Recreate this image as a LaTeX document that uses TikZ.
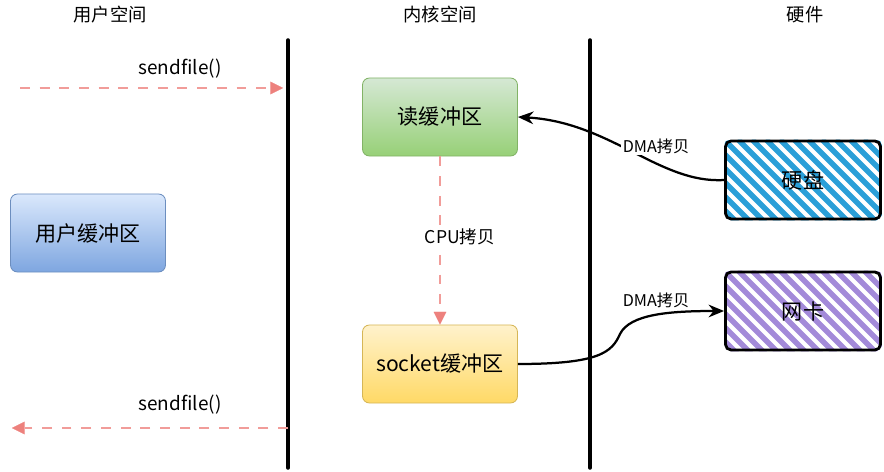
\documentclass[tikz,border=0pt]{standalone}
\usepackage{fontspec}
\setmainfont{Noto Sans CJK SC}
\usepackage{tikz}
\usetikzlibrary{
  arrows.meta,
  positioning,
  backgrounds
}
\definecolor{BufBlueTop}{HTML}{DAE8FC}
\definecolor{BufBlueBot}{HTML}{7EA6E0}
\definecolor{BufBlueLine}{HTML}{6C8EBF}
\definecolor{BufGreenTop}{HTML}{D5E8D4}
\definecolor{BufGreenBot}{HTML}{97D077}
\definecolor{BufGreenLine}{HTML}{82B366}
\definecolor{BufYellowTop}{HTML}{FFF2CC}
\definecolor{BufYellowBot}{HTML}{FFD966}
\definecolor{BufYellowLine}{HTML}{D6B656}
\definecolor{DiskBlue}{HTML}{2A9FD8}
\definecolor{NicPurple}{HTML}{A38AD9}
\definecolor{CallPink}{HTML}{F19C99}
\definecolor{CallTip}{HTML}{EA6B66}
\tikzset{
  title/.style={
    font=\fontsize{13}{15}\selectfont
  },
  buffer/.style={
    draw,
    rounded corners=5pt,
    line width=0.6pt,
    align=center,
    minimum width=3.875cm,
    minimum height=1.95cm,
    font=\fontsize{15}{17}\selectfont
  },
  hwbox/.style={
    draw=black,
    rounded corners=4pt,
    line width=2pt,
    align=center,
    minimum width=3.875cm,
    minimum height=1.95cm,
    font=\fontsize{15}{17}\selectfont
  },
  divider/.style={
    line width=2.5pt,
    line cap=round
  },
  call/.style={
    draw=CallPink,
    line width=2pt,
    dash pattern=on 7pt off 7pt,
    -{Triangle[length=9pt,width=9pt,color=CallTip!85,line width=0.1pt]}
  },
  dma/.style={
    line width=1.6pt,
    -{Stealth[length=11pt,width=9pt]}
  },
  lbl/.style={
    fill=white,
    inner sep=1pt,
    font=\fontsize{11.5}{13}\selectfont
  }
}

\begin{document}
\begin{tikzpicture}[x=0.025cm,y=-0.025cm]

  \useasboundingbox (0,0) rectangle (884,472);

  % column titles
  \node[title] (tuser) at (110,15) {用户空间};
  \node[title] (tkern) at (440,15) {内核空间};
  \node[title] (thw) at (805,15) {硬件};

  % dividers
  \coordinate (d1top) at (288,40);
  \coordinate (d1bot) at (288,468);
  \coordinate (d2top) at (590,40);
  \coordinate (d2bot) at (590,468);
  \draw[divider] (d1top) -- (d1bot);
  \draw[divider] (d2top) -- (d2bot);

  % buffers
  \node[
    buffer,
    draw=BufBlueLine,
    top color=BufBlueTop,
    bottom color=BufBlueBot
  ] (userbuf) at (88,233) {用户缓冲区};

  \node[
    buffer,
    draw=BufGreenLine,
    top color=BufGreenTop,
    bottom color=BufGreenBot
  ] (readbuf) at (440,117) {读缓冲区};

  \node[
    buffer,
    draw=BufYellowLine,
    top color=BufYellowTop,
    bottom color=BufYellowBot
  ] (sockbuf) at (440,364) {socket缓冲区};

  % hardware
  \node[hwbox] (disk) at (803,180) {硬盘};
  \node[hwbox] (nic) at (803,311) {网卡};

  \begin{scope}[on background layer]
    \begin{scope}
      \clip[rounded corners=4pt]
      (disk.south west) rectangle (disk.north east);
      \foreach \i in {-98,-84,...,168}
        \draw[DiskBlue, line width=4pt]
        (disk.north west) ++(\i,0) -- ++(90,90);
    \end{scope}
    \begin{scope}
      \clip[rounded corners=4pt]
      (nic.south west) rectangle (nic.north east);
      \foreach \i in {-98,-84,...,168}
        \draw[NicPurple, line width=4pt]
        (nic.north west) ++(\i,0) -- ++(90,90);
    \end{scope}
  \end{scope}

  % sendfile() calls
  \coordinate (callin) at (20,88);
  \coordinate (callhit) at (283,88);
  \coordinate (retfrom) at (288,428);
  \coordinate (retout) at (12,428);

  \draw[call] (callin) -- (callhit);
  \node[lbl, font=\fontsize{13.5}{15}\selectfont] (sf1) at (180,69) {sendfile()};

  \draw[call] (retfrom) -- (retout);
  \node[lbl, font=\fontsize{13.5}{15}\selectfont] (sf2) at (180,405) {sendfile()};

  % CPU copy
  \draw[call] (readbuf.south) -- (sockbuf.north);
  \node[lbl, font=\fontsize{12.5}{14}\selectfont] (cpu) at (460,237) {CPU拷贝};

  % DMA copies
  \draw[dma]
  (disk.west) .. controls (660,184) and (610,122) .. (readbuf.east);
  \node[lbl] (dma1) at (656,146) {DMA拷贝};

  \draw[dma]
  (sockbuf.east) .. controls (600,364) and (612,352) .. (620,334)
  .. controls (630,314) and (670,311) .. (nic.west);
  \node[lbl, fill=none] (dma2) at (656,300) {DMA拷贝};

\end{tikzpicture}
\end{document}
